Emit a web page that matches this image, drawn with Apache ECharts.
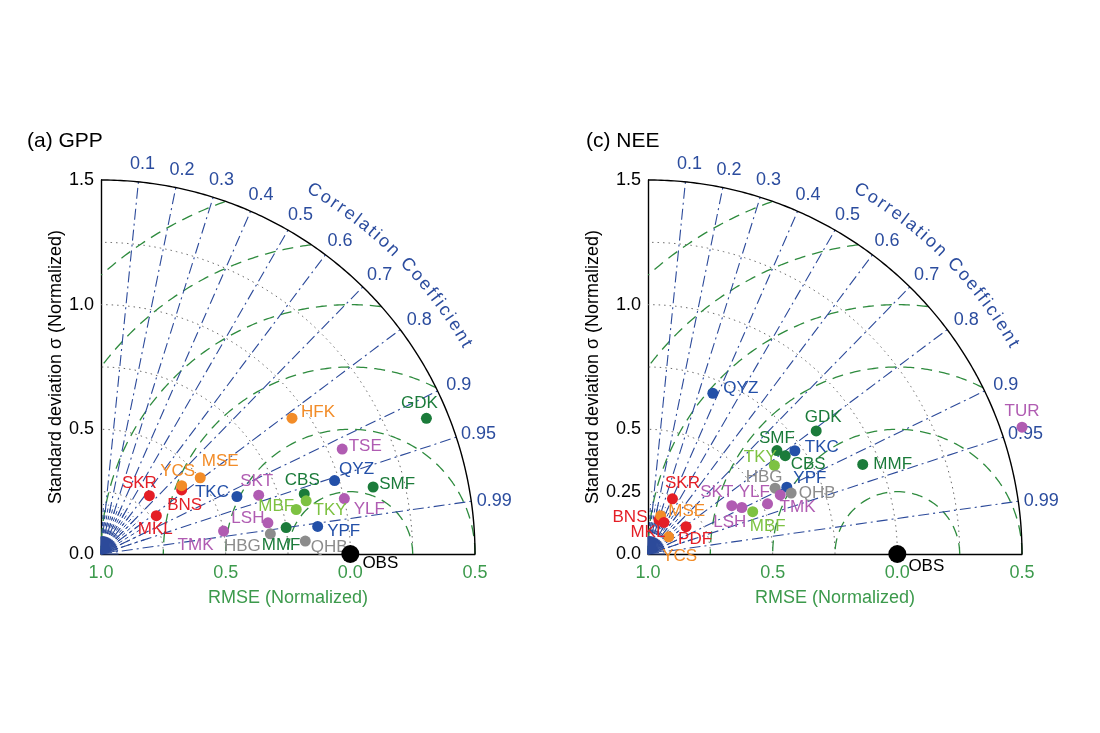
<!DOCTYPE html>
<html><head><meta charset="utf-8">
<script src="https://cdn.jsdelivr.net/npm/echarts@6/dist/echarts.min.js"></script>
<style>html,body{margin:0;padding:0;background:#fff}#c{width:1100px;height:733px}</style>
</head><body><div id="c"></div>
<script>
// ---------------- data ----------------
const gppSites = ['SKR','MKL','BNS','YCS','MSE','TKC','SKT','LSH','TMK','HBG','MMF','HFK','GDK','TSE','QYZ','SMF','CBS','TKY','MBF','YLF','YPF','QHB'];
const gppStd   = [0.304,0.270,0.413,0.424,0.502,0.592,0.675,0.681,0.500,0.684,0.750,0.940,1.414,1.055,0.982,1.124,0.850,0.850,0.803,1.001,0.876,0.821];
const gppCorr  = [0.638,0.822,0.783,0.763,0.793,0.921,0.937,0.983,0.983,0.993,0.990,0.815,0.923,0.917,0.954,0.971,0.959,0.968,0.975,0.975,0.992,0.998];

const neeSites = ['QYZ','GDK','SMF','CBS','TKC','TKY','MMF','TUR','HBG','YPF','QHB','YLF','TMK','SKT','LSH','MBF','SKR','BNS','MSE','MKL','PDF','YCS'];
const neeStd   = [0.695,0.836,0.663,0.677,0.720,0.619,0.933,1.584,0.574,0.618,0.624,0.581,0.520,0.388,0.420,0.453,0.242,0.144,0.162,0.142,0.188,0.108];
const neeCorr  = [0.374,0.807,0.780,0.813,0.818,0.819,0.923,0.947,0.888,0.901,0.920,0.913,0.922,0.866,0.896,0.927,0.405,0.306,0.314,0.450,0.812,0.769];

const obsStd = 1.0, obsCorr = 1.0;
const corrTicks = [0.1,0.2,0.3,0.4,0.5,0.6,0.7,0.8,0.9,0.95,0.99];
const stdArcs = [0.25,0.5,0.75,1.0,1.25];
const rmseArcs = [0.25,0.5,0.75,1.0,1.25,1.5];
const stdMax = 1.5;
const panelTitles = ['(a) GPP','(c) NEE'];
const gppYTickLabels = {'0':'0.0','0.5':'0.5','1':'1.0','1.5':'1.5'};
const neeYTickLabels = {'0':'0.0','0.25':'0.25','0.5':'0.5','1':'1.0','1.5':'1.5'};

// ---------------- styles / layout ----------------
const FONT = '"Liberation Sans", Arial, Helvetica, sans-serif';
const C_RED='#e41e26', C_OR='#f28c28', C_BL='#2350a8', C_PU='#b05cb2', C_DG='#1b7b3a', C_LG='#7dc242', C_GR='#8c8c8c';
const siteColor = {SKR:C_RED,BNS:C_RED,MKL:C_RED,PDF:C_RED,YCS:C_OR,MSE:C_OR,HFK:C_OR,
  TKC:C_BL,QYZ:C_BL,YPF:C_BL,SKT:C_PU,LSH:C_PU,TMK:C_PU,TSE:C_PU,YLF:C_PU,TUR:C_PU,
  CBS:C_DG,MMF:C_DG,SMF:C_DG,GDK:C_DG,MBF:C_LG,TKY:C_LG,HBG:C_GR,QHB:C_GR};
const gppLabelOffset = {SKR:[-10,-12],MKL:[-1,14],BNS:[3,15],YCS:[-4,-14],MSE:[20,-16],TKC:[-25,-4],SKT:[-2,-14],
  LSH:[-20,-5],TMK:[-28,14],HBG:[-28,12],MMF:[-5,18],HFK:[26,-6],GDK:[-7,-15],TSE:[23,-3],QYZ:[22,-11],
  SMF:[24,-3],CBS:[-2,-14],TKY:[24,9],MBF:[-20,-3],YLF:[25,11],YPF:[26,5],QHB:[24,6],OBS:[30,9]};
const neeLabelOffset = {QYZ:[28,-5],GDK:[7,-14],SMF:[0,-12],CBS:[23,9],TKC:[27,-3],TKY:[-14,-8],MMF:[30,0],
  TUR:[0,-16],YPF:[23,-9],HBG:[-11,-11],QHB:[26,0],YLF:[-26,-3],TMK:[30,4],SKT:[-15,-13],LSH:[-12,15],
  MBF:[15,15],SKR:[10,-16],BNS:[-29,-3],MSE:[26,-4],MKL:[-16,10],PDF:[9,13],YCS:[11,20],OBS:[29,12]};
const gridPos = [{left:101,top:180,width:374,height:374},{left:648,top:180,width:374,height:374}];
const BLUE_TXT = '#2b4c9e', GREEN_TXT = '#3c9a4c';

// ---------------- helpers ----------------
function toXY(std, corr){ return [std*corr, std*Math.sqrt(Math.max(0,1-corr*corr))]; }
function lineS(g, pts, color, type, width, z){
  return {type:'line', xAxisIndex:g, yAxisIndex:g, data:pts, symbol:'none', showSymbol:false,
    silent:true, animation:false, clip:false, z:z||1, lineStyle:{color:color, type:type, width:width}};
}
function panelGrid(g){
  const s = [];
  stdArcs.forEach(r=>{
    const p=[]; for(let i=0;i<=180;i++){const a=i/180*Math.PI/2; p.push([r*Math.cos(a), r*Math.sin(a)]);}
    s.push(lineS(g,p,'#6a6a6a',[1.5,4],1));
  });
  rmseArcs.forEach(r=>{
    const p=[]; for(let i=0;i<=720;i++){const t=i/720*Math.PI; const x=obsStd+r*Math.cos(t), y=r*Math.sin(t);
      if(x>=-1e-9 && x*x+y*y<=stdMax*stdMax+1e-9) p.push([x,y]);}
    s.push(lineS(g,p,'#2e8b3e',[11,7],1.3));
  });
  corrTicks.forEach(c=>{
    const e=toXY(stdMax,c); s.push(lineS(g,[[0,0],e],'#2c4a9a',[11,4,2,4],1.1));
  });
  for(let c=0.05;c<0.99;c+=0.05){ const e=toXY(0.2,c); s.push(lineS(g,[[0,0],e],'#2c4a9a',[4,3],1)); }
  for(let c=0;c<=1.0001;c+=0.02){ const e=toXY(0.07,Math.min(c,1)); s.push(lineS(g,[[0,0],e],'#2c4a9a','solid',1)); }
  const o=[]; for(let i=0;i<=180;i++){const a=i/180*Math.PI/2; o.push([stdMax*Math.cos(a), stdMax*Math.sin(a)]);}
  s.push(lineS(g,o,'#000','solid',1.4,3));
  s.push({type:'scatter', xAxisIndex:g, yAxisIndex:g, symbolSize:0, silent:true, animation:false, clip:false, z:4,
    itemStyle:{opacity:1},
    data: corrTicks.map(c=>({name:String(c), value:toXY(1.585,c)})),
    label:{show:true, position:'inside', formatter:'{b}', offset:[2,3], color:BLUE_TXT, fontSize:18, fontFamily:FONT}});
  return s;
}
function pointSeries(g, sites, stds, corrs, offs){
  const data = sites.map((n,i)=>({name:n, value:toXY(stds[i],corrs[i]),
    itemStyle:{color:siteColor[n], opacity:1}, label:{offset:offs[n], color:siteColor[n]}}));
  return [{type:'scatter', xAxisIndex:g, yAxisIndex:g, symbolSize:11, clip:false, animation:false, z:6,
    itemStyle:{opacity:1},
    data:data, label:{show:true, position:'inside', formatter:'{b}', fontSize:17, fontFamily:FONT}},
    {type:'scatter', xAxisIndex:g, yAxisIndex:g, symbolSize:18, clip:false, animation:false, z:7,
    itemStyle:{opacity:1},
    data:[{name:'OBS', value:toXY(obsStd,obsCorr), itemStyle:{color:'#000', opacity:1}, label:{offset:offs.OBS, color:'#000'}}],
    label:{show:true, position:'inside', formatter:'{b}', fontSize:17, fontFamily:FONT}}];
}
function xAx(g){
  return {type:'value', gridIndex:g, min:0, max:stdMax, interval:0.5,
    axisLine:{show:true, onZero:false, lineStyle:{color:'#000', width:1.4}}, axisTick:{show:false}, splitLine:{show:false},
    axisLabel:{color:GREEN_TXT, fontSize:18, fontFamily:FONT, margin:10, showMinLabel:true, showMaxLabel:true,
      formatter:v=>Math.abs(obsStd-v).toFixed(1)},
    name:'RMSE (Normalized)', nameLocation:'middle', nameGap:35,
    nameTextStyle:{color:GREEN_TXT, fontSize:18, fontFamily:FONT}};
}
function yAx(g, labels, interval){
  return {type:'value', gridIndex:g, min:0, max:stdMax, interval:interval,
    axisLine:{show:true, onZero:false, lineStyle:{color:'#000', width:1.4}}, axisTick:{show:false}, splitLine:{show:false},
    axisLabel:{color:'#000', fontSize:18, fontFamily:FONT, margin:7, showMinLabel:true, showMaxLabel:true,
      formatter:v=>{const k=String(+v.toFixed(2)); return labels[k]!==undefined?labels[k]:'';}},
    name:'Standard deviation σ (Normalized)', nameLocation:'middle', nameGap:35,
    nameTextStyle:{color:'#000', fontSize:18, fontFamily:FONT}};
}

const chart = echarts.init(document.getElementById('c'), null, {renderer:'canvas'});
const series = [].concat(panelGrid(0), panelGrid(1),
  pointSeries(0,gppSites,gppStd,gppCorr,gppLabelOffset),
  pointSeries(1,neeSites,neeStd,neeCorr,neeLabelOffset));
chart.setOption({
  backgroundColor:'#fff', animation:false,
  grid: gridPos.map(p=>Object.assign({containLabel:false},p)),
  xAxis:[xAx(0), xAx(1)],
  yAxis:[yAx(0,gppYTickLabels,0.5), yAx(1,neeYTickLabels,0.25)],
  series: series
});

const graphics = [];
const ctx = document.createElement('canvas').getContext('2d');
const cfont = '18px ' + FONT; ctx.font = cfont;
const word = 'Correlation Coefficient';
[0,1].forEach(g=>{
  const p0 = chart.convertToPixel({gridIndex:g},[0,0]);
  const p1 = chart.convertToPixel({gridIndex:g},[1,0]);
  const unit = p1[0]-p0[0];
  const R = 1.69*unit;
  const a0 = 59.6*Math.PI/180, a1 = 29.9*Math.PI/180;
  const L = R*(a0-a1);
  const ws = word.split('').map(ch=>ctx.measureText(ch).width);
  const centers=[]; let acc=0; ws.forEach(w=>{centers.push(acc+w/2); acc+=w;});
  const nat = centers[centers.length-1]-centers[0];
  const extra = (L-nat)/(word.length-1);
  word.split('').forEach((ch,i)=>{
    const s = centers[i]-centers[0]+i*extra;
    const phi = a0 - s/R;
    graphics.push({type:'text', x:p0[0]+R*Math.cos(phi), y:p0[1]-R*Math.sin(phi), rotation:phi-Math.PI/2,
      style:{text:ch, fill:BLUE_TXT, font:cfont, align:'center', verticalAlign:'middle', textAlign:'center', textVerticalAlign:'middle'}});
  });
  graphics.push({type:'text', x:(g===0?27:586), y:141,
    style:{text:panelTitles[g], fill:'#000', font:'21px '+FONT, align:'left', verticalAlign:'middle', textAlign:'left', textVerticalAlign:'middle'}});
});
chart.setOption({graphic: graphics});
</script></body></html>
